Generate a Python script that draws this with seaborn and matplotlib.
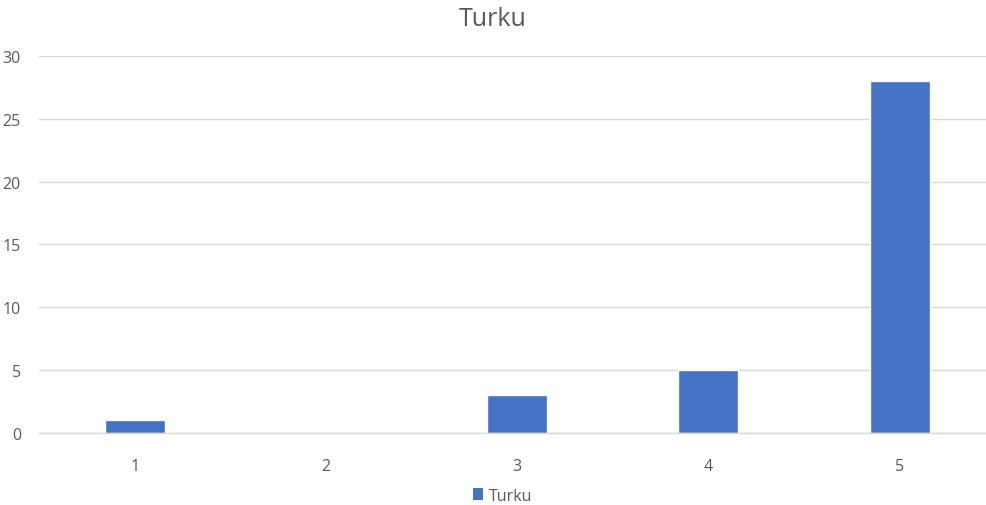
import matplotlib
matplotlib.use("Agg")
import matplotlib.pyplot as plt
import seaborn as sns
import pandas as pd
from matplotlib.patches import Patch

categories = ["1", "2", "3", "4", "5"]
values = [1, 0, 3, 5, 28]
series_name = "Turku"
y_ticks = [0, 5, 10, 15, 20, 25, 30]

sns.set_theme(style="white")
plt.rcParams["font.family"] = ["Liberation Sans Narrow", "Open Sans", "DejaVu Sans"]

bar_color = "#4472C4"
text_color = "#595959"
grid_color = "#D9D9D9"

df = pd.DataFrame({"category": categories, "value": values, "series": series_name})

fig = plt.figure(figsize=(9.86, 5.06), dpi=100)
ax = fig.add_axes([0.0396, 0.1423, 0.9604, 0.7451])

sns.barplot(data=df, x="category", y="value", hue="series", palette=[bar_color],
            width=0.314, ax=ax, legend=False, saturation=1)

ax.set_ylim(0, 30)
ax.set_xlim(-0.5, 4.452)
ax.set_yticks(y_ticks)
ax.set_yticklabels([str(t) for t in y_ticks])
ax.yaxis.grid(True, color=grid_color, linewidth=1)
ax.set_axisbelow(True)
for s in ["top", "right", "left"]:
    ax.spines[s].set_visible(False)
ax.spines["bottom"].set_color(grid_color)
ax.spines["bottom"].set_linewidth(1)
ax.tick_params(axis="both", length=0, colors=text_color, labelsize=11.5)
ax.tick_params(axis="y", pad=13)
ax.tick_params(axis="x", pad=18)
ax.set_xlabel("")
ax.set_ylabel("")

fig.text(0.5, 0.961, series_name, ha="center", va="center", fontsize=18, color=text_color)

handles = [Patch(facecolor=bar_color, edgecolor="none", label=series_name)]
fig.legend(handles=handles, loc="center", bbox_to_anchor=(0.51, 0.018), frameon=False,
           fontsize=11.5, labelcolor=text_color, handlelength=0.6, handleheight=0.8,
           handletextpad=0.4)

fig.savefig("out.png", dpi=100, facecolor="white")
